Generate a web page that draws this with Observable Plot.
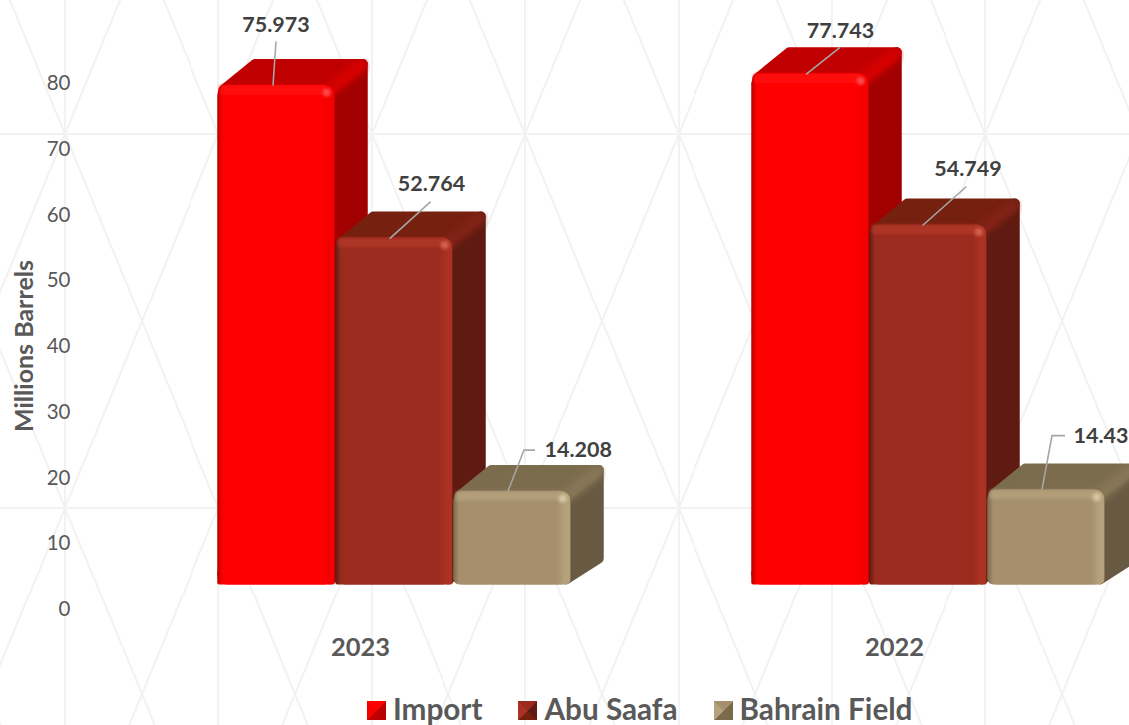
<!DOCTYPE html>
<html>
<head>
<meta charset="utf-8">
<script src="https://cdn.jsdelivr.net/npm/d3@7"></script>
<script src="https://cdn.jsdelivr.net/npm/@observablehq/plot@0.6"></script>
<style>
html,body{margin:0;padding:0;width:1129px;height:725px;overflow:hidden;background-color:#fff;font-family:Lato,sans-serif}
#legend{position:absolute;left:367px;top:694px;height:30px;display:flex;align-items:center;font:bold 29.7px/30px Lato,sans-serif;color:#595959;white-space:nowrap}
.item{display:flex;align-items:center;margin-right:36px}
.sw{width:19px;height:19px;margin-right:7px;margin-top:3px;display:inline-block}
</style>
</head>
<body>
<div id="chart"></div>
<div id="legend"></div>
<script>
const years = ["2023", "2022"];
const seriesNames = ["Import", "Abu Saafa", "Bahrain Field"];
const import_ = [75.973, 77.743];
const abuSaafa = [52.764, 54.749];
const bahrainField = [14.208, 14.43];
const yTicks = [0, 10, 20, 30, 40, 50, 60, 70, 80];

// styling tables (per series)
const frontColors = ["#ff0000", "#9b2b1e", "#a58f6c"];
const edgeDark    = ["#b80000", "#5e1c12", "#7a6a4a"];
const edgeLight   = ["#f40000", "#ab3223", "#b5a17b"];
const topColors   = ["#c00000", "#76200f", "#7c6c4e"];
const ridgeColors = ["#d60000", "#802414", "#877657"];
const sideColors  = ["#a20000", "#5f1b11", "#685a42"];
const glowColors  = ["#ff4a4a", "#d2604c", "#d6c7a0"];
const stripColors = ["#ff1010", "#ad3526", "#b29e79"];
const baseRound   = [2, 2, 6];

// leader layout, as pixel offsets from the front-top centre of each bar
const leaderLayout = {
  "2023|Import":        {text:[-0.5,-60.5], anchor:"middle", line:[[0,-43.5],[-3,0.5]]},
  "2023|Abu Saafa":     {text:[37,-54],     anchor:"middle", line:[[36.7,-36],[-4.3,1]]},
  "2023|Bahrain Field": {text:[32,-41],     anchor:"start",  line:[[23,-41],[12,-41],[-4,0]]},
  "2022|Import":        {text:[30,-43],     anchor:"middle", line:[[30,-26],[-4,1]]},
  "2022|Abu Saafa":     {text:[39.5,-56],   anchor:"middle", line:[[38.5,-38],[-5.5,1]]},
  "2022|Bahrain Field": {text:[27,-54],     anchor:"start",  line:[[19,-54],[6,-54],[-4,0]]}
};

const valuesBySeries = [import_, abuSaafa, bahrainField];
const rows = years.flatMap((year, yi) =>
  seriesNames.map((series, si) => ({year, series, si, value: valuesBySeries[si][yi]})));

const baseShift = -23.5, depthX = 33, depthY = 26, corner = 10;
const NS = "http://www.w3.org/2000/svg";
function el(name, attrs) {
  const e = document.createElementNS(NS, name);
  for (const k in attrs) e.setAttribute(k, attrs[k]);
  return e;
}

function cuboid(index, scales, values, dims, ctx, next) {
  const g = next(index, scales, values, dims, ctx);
  const bw = scales.x.bandwidth() - 0.5;
  const rects = g.querySelectorAll("rect");
  Array.from(index).forEach((i, n) => {
    const d = rows[i], rect = rects[n], parent = rect.parentNode;
    const x1 = scales.x(d.series) + 0.25, x2 = x1 + bw;
    const yT = scales.y(d.value), y0 = scales.y(0);
    const s = d.si, r = corner / 2;
    const before = e => parent.insertBefore(e, rect);
    const after = e => parent.insertBefore(e, rect.nextSibling);
    before(el("path", {
      d: `M${x2-r},${y0-r}L${x2+depthX-r},${y0-depthY}L${x2+depthX-r},${yT-depthY+r}L${x2-r},${yT+r}Z`,
      fill: sideColors[s], stroke: sideColors[s], "stroke-width": corner, "stroke-linejoin": "round"
    }));
    before(el("path", {
      d: `M${x1+r+1},${yT+r}L${x1+depthX+r},${yT-depthY+r}L${x2+depthX-r},${yT-depthY+r}L${x2-r},${yT+r}Z`,
      fill: topColors[s], stroke: topColors[s], "stroke-width": corner, "stroke-linejoin": "round"
    }));
    before(el("path", {
      d: `M${x2-6},${yT+6}L${x2+depthX-8},${yT-depthY+8}`,
      stroke: ridgeColors[s], "stroke-width": 13, "stroke-linecap": "round", filter: "url(#softer)", fill: "none"
    }));
    // highlights laid on the front face
    const strip = el("rect", {x: x1+3, y: yT+0.5, width: bw-12, height: 9, fill: stripColors[s], filter: "url(#soft)"});
    const glow = el("circle", {cx: x2-8, cy: yT+7.5, r: 4, fill: glowColors[s], filter: "url(#soft)"});
    const foot = el("rect", {x: x1, y: y0-14, width: bw, height: 14, rx: baseRound[s], fill: `url(#front${s})`});
    after(glow); after(strip); after(foot);
  });
  return g;
}

function leader(r, key) {
  return function (index, scales, values, dims, ctx, next) {
    const g = next(index, scales, values, dims, ctx);
    if (!index.length) return g;
    const L = leaderLayout[key];
    const cx = scales.x(r.series) + scales.x.bandwidth() / 2, cy = scales.y(r.value);
    const p = L.line.map(([a, b]) => [cx + a, cy + b + baseShift]);
    const out = el("g", {});
    out.append(el("path", {d: "M" + p.join("L"), fill: "none", stroke: "#a6a6a6", "stroke-width": 1.6}), g);
    return out;
  };
}

const plot = Plot.plot({
  width: 1129,
  height: 695,
  marginTop: 0, marginRight: 0, marginBottom: 60, marginLeft: 0,
  style: {background: "transparent", fontFamily: "Lato, sans-serif"},
  fx: {domain: years, range: [93.25, 1161.25], padding: 0, label: null},
  x: {domain: seriesNames, range: [123.5, 479], padding: 0, axis: null},
  y: {domain: [0, 80], range: [608, 82]},
  color: {domain: seriesNames, range: seriesNames.map((_, i) => `url(#front${i})`)},
  marks: [
    Plot.axisY({ticks: yTicks, tickSize: 0, tickPadding: 23, dy: 1, label: null, fontSize: 20.5, color: "#595959", tickFormat: d => String(d)}),
    Plot.axisFx({anchor: "bottom", tickSize: 0, tickPadding: 2, label: null, fontSize: 25.5, fontWeight: "bold", color: "#595959"}),
    Plot.barY(rows, {fx: "year", x: "series", y: "value", fill: "series", insetLeft: 0.25, insetRight: 0.25, rx: corner, dy: baseShift, render: cuboid}),
    ...rows.map(r => {
      const key = r.year + "|" + r.series, L = leaderLayout[key];
      return Plot.text([r], {
        fx: "year", x: "series", y: "value", text: d => String(d.value),
        dx: L.text[0], dy: L.text[1] + baseShift, textAnchor: L.anchor,
        fontSize: 21.5, fontWeight: "bold", fill: "#404040",
        render: leader(r, key)
      });
    }),
    Plot.text(["Millions Barrels"], {facet: "super", frameAnchor: "left", textAnchor: "middle", dx: -69, dy: 28, rotate: -90, fontSize: 25, fontWeight: "bold", fill: "#595959", text: d => d})
  ]
});

// gradients and filters used by the bars
const defs = el("defs", {});
const soft = el("filter", {id: "soft", x: "-30%", y: "-30%", width: "160%", height: "160%"});
soft.append(el("feGaussianBlur", {stdDeviation: 1.6}));
const softer = el("filter", {id: "softer", x: "-30%", y: "-30%", width: "160%", height: "160%"});
softer.append(el("feGaussianBlur", {stdDeviation: 3}));
defs.append(soft, softer);
seriesNames.forEach((_, i) => {
  const lg = el("linearGradient", {id: "front" + i, x1: 0, x2: 1, y1: 0, y2: 0});
  [[0, edgeDark[i]], [0.05, frontColors[i]], [0.88, frontColors[i]], [0.95, edgeLight[i]], [0.995, edgeLight[i]], [1, edgeDark[i]]]
    .forEach(([o, c]) => lg.append(el("stop", {offset: o, "stop-color": c})));
  defs.append(lg);
});
plot.prepend(defs);
document.getElementById("chart").append(plot);

// background lattice behind chart and legend
const tw = 153.4, th = 373.6;
const tile = `<svg xmlns="http://www.w3.org/2000/svg" width="${tw}" height="${th}"><g stroke="#f2f2f2" stroke-width="2" fill="none"><path d="M0 0V${th}M${tw} 0V${th}M0 0H${tw}M0 ${th}H${tw}M0 0L${tw} ${th}M${tw} 0L0 ${th}"/></g></svg>`;
document.body.style.backgroundImage = `url("data:image/svg+xml,${encodeURIComponent(tile)}")`;
document.body.style.backgroundSize = `${tw}px ${th}px`;
document.body.style.backgroundPosition = "65px 134px";

// legend
const legend = d3.select("#legend");
seriesNames.forEach((name, i) => {
  const item = legend.append("div").attr("class", "item");
  item.append("span").attr("class", "sw").style("background",
    `conic-gradient(from -45deg, ${frontColors[i]} 0 90deg, ${edgeDark[i]} 90deg 180deg, ${topColors[i]} 180deg 270deg, ${edgeLight[i]} 270deg 360deg)`);
  item.append("span").text(name);
});
</script>
</body>
</html>
